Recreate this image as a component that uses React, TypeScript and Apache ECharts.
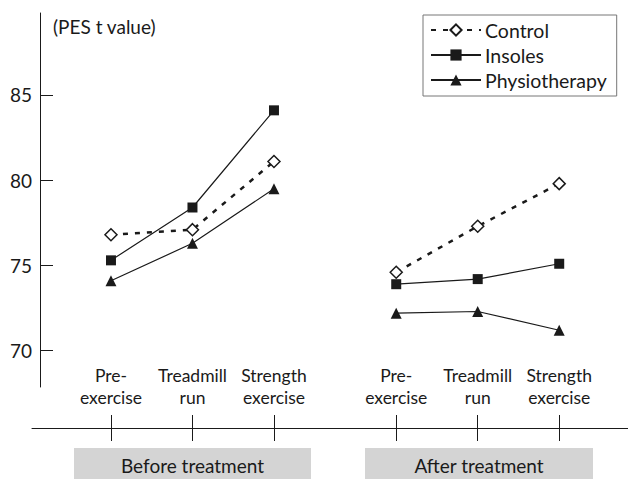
import React, { useEffect, useRef } from "react";
import * as echarts from "echarts";

const categories = [
  "Pre-\nexercise",
  "Treadmill\nrun",
  "Strength\nexercise",
  "Pre-\nexercise",
  "Treadmill\nrun",
  "Strength\nexercise",
];
const xPositions = [0, 1, 2, 3.5, 4.5, 5.5];
const phases = ["Before treatment", "After treatment"];
const seriesNames = ["Control", "Insoles", "Physiotherapy"];
const control = [76.8, 77.1, 81.1, 74.6, 77.3, 79.8];
const insoles = [75.3, 78.4, 84.1, 73.9, 74.2, 75.1];
const physio = [74.1, 76.3, 79.5, 72.2, 72.3, 71.2];
const yTicks = [70, 75, 80, 85];
const yTitle = "(PES t value)";

const FONT = "Lato, 'Open Sans', sans-serif";
const INK = "#1a1a1a";

export default function App() {
  const ref = useRef<HTMLDivElement>(null);
  useEffect(() => {
    if (!ref.current) return;
    const chart = echarts.init(ref.current, null, { renderer: "svg" });

    const groups = [
      [0, 1, 2],
      [3, 4, 5],
    ];
    const styles = [
      {
        name: seriesNames[0],
        values: control,
        symbol: "diamond",
        symbolSize: 12,
        itemStyle: { color: "#fff", borderColor: INK, borderWidth: 1.5 },
        lineStyle: { color: INK, width: 2.5, type: [5, 7] as any },
      },
      {
        name: seriesNames[1],
        values: insoles,
        symbol: "rect",
        symbolSize: 10,
        itemStyle: { color: INK },
        lineStyle: { color: INK, width: 1.2 },
      },
      {
        name: seriesNames[2],
        values: physio,
        symbol: "triangle",
        symbolSize: 11,
        itemStyle: { color: INK },
        lineStyle: { color: INK, width: 1.2 },
      },
    ];
    const series: any[] = [];
    styles.forEach((s) => {
      groups.forEach((g) => {
        series.push({
          type: "line",
          name: s.name,
          data: g.map((i) => [xPositions[i], s.values[i]]),
          symbol: s.symbol,
          symbolSize: s.symbolSize,
          showAllSymbol: true,
          itemStyle: s.itemStyle,
          lineStyle: s.lineStyle,
          emphasis: { disabled: true },
          z: 3,
        });
      });
    });

    const labelFmt = (v: number) => {
      const idx = xPositions.findIndex((p) => Math.abs(p - v) < 1e-6);
      return idx >= 0 ? categories[idx] : "";
    };

    chart.setOption({
      animation: false,
      grid: { left: 32, right: 0, top: 13, bottom: 92, containLabel: false },
      legend: {
        orient: "vertical",
        left: 423,
        top: 15,
        data: seriesNames,
        itemWidth: 50,
        itemHeight: 14,
        itemGap: 5,
        padding: [5, 10, 6, 7],
        borderColor: "#777",
        borderWidth: 1,
        selectedMode: false,
        textStyle: { fontFamily: FONT, fontSize: 19.5, lineHeight: 20, color: INK, padding: [0, 0, 0, -1] },
      },
      xAxis: [
        {
          type: "value",
          min: -0.969,
          max: 6.344,
          offset: 41,
          splitLine: { show: false },
          axisLine: { show: true, onZero: false, lineStyle: { color: INK, width: 1 } },
          axisTick: {
            show: true,
            inside: true,
            length: 13,
            customValues: xPositions,
            lineStyle: { color: INK, width: 1 },
          },
          axisLabel: {
            show: true,
            inside: true,
            margin: 20,
            customValues: xPositions,
            formatter: labelFmt,
            fontFamily: FONT,
            fontSize: 17.5,
            lineHeight: 22,
            color: INK,
          },
        },
        {
          type: "value",
          position: "bottom",
          min: -0.969,
          max: 6.344,
          offset: 41,
          splitLine: { show: false },
          axisLine: { show: false, onZero: false },
          axisTick: {
            show: true,
            inside: false,
            length: 13,
            customValues: xPositions,
            lineStyle: { color: INK, width: 1 },
          },
          axisLabel: { show: false },
        },
      ],
      yAxis: {
        type: "value",
        min: 67.87,
        max: 89.81,
        offset: -8,
        splitLine: { show: false },
        axisLine: { show: true, onZero: false, lineStyle: { color: INK, width: 1 } },
        axisTick: {
          show: true,
          inside: true,
          length: 13,
          customValues: yTicks,
          lineStyle: { color: INK, width: 1 },
        },
        axisLabel: {
          show: true,
          margin: 8,
          customValues: yTicks,
          fontFamily: FONT,
          fontSize: 19,
          color: INK,
        },
      },
      graphic: [
        {
          type: "text",
          left: 53,
          top: 17,
          style: { text: yTitle, fontFamily: FONT, fontSize: 19, fill: INK },
        },
        {
          type: "group",
          left: 74,
          top: 448,
          children: [
            { type: "rect", shape: { x: 0, y: 0, width: 237, height: 32 }, style: { fill: "#d4d4d4" } },
            {
              type: "text",
              x: 118.5,
              y: 17,
              style: { text: phases[0], fontFamily: FONT, fontSize: 19, fill: INK, align: "center", verticalAlign: "middle" },
            },
          ],
        },
        {
          type: "group",
          left: 365,
          top: 448,
          children: [
            { type: "rect", shape: { x: 0, y: 0, width: 228, height: 32 }, style: { fill: "#d4d4d4" } },
            {
              type: "text",
              x: 114,
              y: 17,
              style: { text: phases[1], fontFamily: FONT, fontSize: 19, fill: INK, align: "center", verticalAlign: "middle" },
            },
          ],
        },
      ],
      series,
    });
    return () => chart.dispose();
  }, []);
  return <div ref={ref} style={{ width: 628, height: 479, position: "absolute", left: 0, top: 0, background: "#fff" }} />;
}
